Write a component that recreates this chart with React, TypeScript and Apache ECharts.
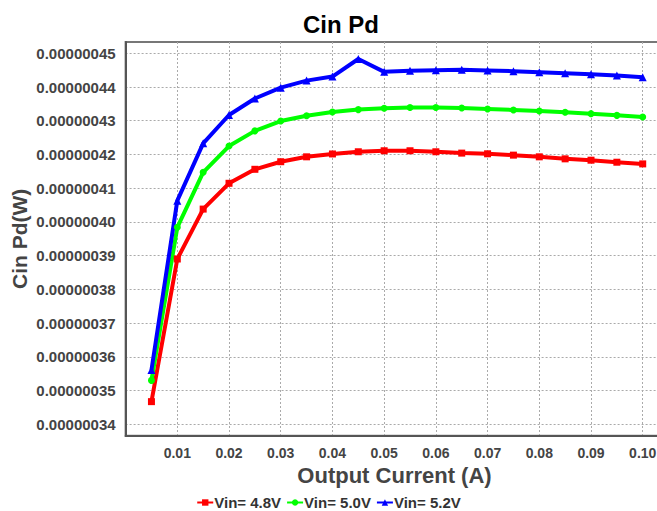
import React, { useEffect, useRef } from "react";
import * as echarts from "echarts";

const currents = [0.005, 0.01, 0.015, 0.02, 0.025, 0.03, 0.035, 0.04, 0.045, 0.05, 0.055, 0.06, 0.065, 0.07, 0.075, 0.08, 0.085, 0.09, 0.095, 0.1];

const vin48 = [3.467e-7, 3.89e-7, 4.038e-7, 4.1145e-7, 4.156e-7, 4.1785e-7, 4.193e-7, 4.2015e-7, 4.208e-7, 4.211e-7, 4.211e-7, 4.208e-7, 4.204e-7, 4.202e-7, 4.198e-7, 4.193e-7, 4.187e-7, 4.183e-7, 4.177e-7, 4.172e-7];
const vin50 = [3.53e-7, 3.984e-7, 4.147e-7, 4.225e-7, 4.27e-7, 4.299e-7, 4.315e-7, 4.326e-7, 4.333e-7, 4.337e-7, 4.339e-7, 4.339e-7, 4.338e-7, 4.335e-7, 4.332e-7, 4.329e-7, 4.325e-7, 4.321e-7, 4.316e-7, 4.311e-7];
const vin52 = [3.561e-7, 4.063e-7, 4.233e-7, 4.317e-7, 4.366e-7, 4.398e-7, 4.419e-7, 4.431e-7, 4.483e-7, 4.445e-7, 4.448e-7, 4.45e-7, 4.451e-7, 4.449e-7, 4.447e-7, 4.444e-7, 4.441e-7, 4.438e-7, 4.434e-7, 4.429e-7];

const seriesNames = ["Vin= 4.8V", "Vin= 5.0V", "Vin= 5.2V"];
const yTicks = [3.4e-7, 3.5e-7, 3.6e-7, 3.7e-7, 3.8e-7, 3.9e-7, 4.0e-7, 4.1e-7, 4.2e-7, 4.3e-7, 4.4e-7, 4.5e-7];

const FONT = "'Liberation Sans', Arial, sans-serif";

export default function App() {
  const ref = useRef<HTMLDivElement>(null);
  useEffect(() => {
    if (!ref.current) return;
    const chart = echarts.init(ref.current, null, { renderer: "svg" });
    const mk = (vals: number[]) => currents.map((c, i) => [c, vals[i]]);
    const colors = ["#ff0000", "#00ff00", "#0000ff"];
    const symbols = ["rect", "circle", "triangle"];
    const sizes = [7, 7, 8];
    const datasets = [vin48, vin50, vin52];
    chart.setOption({
      animation: false,
      backgroundColor: "#ffffff",
      title: {
        text: "Cin Pd",
        left: 336,
        top: 7,
        textAlign: "center",
        textStyle: { fontFamily: FONT, fontWeight: "bold", fontSize: 24, color: "#000" },
      },
      legend: {
        data: seriesNames,
        left: "center",
        bottom: -4,
        itemGap: 5,
        itemWidth: 16,
        itemHeight: 8,
        textStyle: { fontFamily: FONT, fontWeight: "bold", fontSize: 15, color: "#333", padding: [0, 0, 0, -4] },
      },
      grid: {
        left: 125.6,
        right: -6.4,
        top: 42,
        bottom: 75.3,
        show: true,
        borderColor: "#777",
        borderWidth: 2,
        containLabel: false,
        outerBoundsMode: "none",
      },
      xAxis: {
        type: "value",
        min: 0,
        max: 0.104,
        interval: 0.01,
        name: "Output Current (A)",
        nameLocation: "middle",
        nameGap: 25,
        nameTextStyle: { fontFamily: FONT, fontWeight: "bold", fontSize: 22, color: "#444" },
        axisLine: { show: true, lineStyle: { color: "#555", width: 2 } },
        axisTick: { show: false },
        axisLabel: {
          showMinLabel: false,
          showMaxLabel: false,
          margin: 10,
          fontFamily: FONT,
          fontWeight: "bold",
          fontSize: 14,
          color: "#444",
          formatter: (v: number) => v.toFixed(2),
        },
        splitLine: { show: true, lineStyle: { color: "#aaa", width: 1, type: [2, 2] } },
      },
      yAxis: {
        type: "value",
        min: 3.366e-7,
        max: 4.5335e-7,
        name: "Cin Pd(W)",
        nameLocation: "middle",
        nameGap: 96,
        nameMoveOverlap: false,
        nameTextStyle: { fontFamily: FONT, fontWeight: "bold", fontSize: 21, color: "#444" },
        axisLine: { show: true, lineStyle: { color: "#555", width: 2 } },
        axisTick: { show: false, customValues: yTicks },
        axisLabel: {
          customValues: yTicks,
          margin: 10,
          fontFamily: FONT,
          fontWeight: "bold",
          fontSize: 15,
          color: "#444",
          formatter: (v: number) => v.toFixed(8),
        },
        splitLine: { show: true, lineStyle: { color: "#aaa", width: 1, type: [2, 2] } },
      },
      series: datasets.map((d, i) => ({
        name: seriesNames[i],
        type: "line",
        data: mk(d),
        symbol: symbols[i],
        symbolSize: sizes[i],
        showAllSymbol: true,
        lineStyle: { color: colors[i], width: 4 },
        itemStyle: { color: colors[i] },
      })),
    });
    return () => chart.dispose();
  }, []);
  return <div ref={ref} style={{ position: "absolute", left: 0, top: 0, width: 657, height: 511 }} />;
}
